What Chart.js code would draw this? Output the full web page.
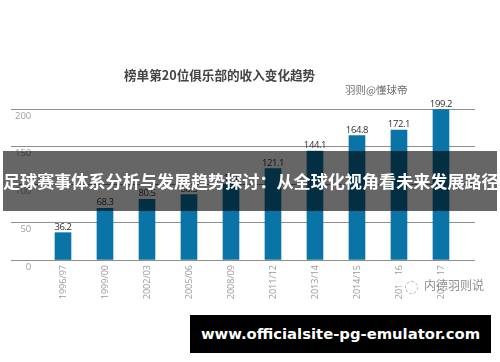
<!DOCTYPE html>
<html>
<head>
<meta charset="utf-8">
<script src="https://cdn.jsdelivr.net/npm/chart.js@4"></script>
<style>
  html, body { margin: 0; padding: 0; background: #fff; }
  #wrap { position: relative; width: 500px; height: 362px; overflow: hidden; font-family: "Noto Sans CJK SC", sans-serif; }
  #wrap div { position: absolute; white-space: nowrap; }
  #myChart { filter: blur(.3px); }
  #title { left: 124px; top: 65px; font-size: 12.6px; font-weight: 700; color: #444; }
  #author { left: 345px; top: 82px; font-size: 10.5px; color: #6b6b6b; }
  #patch { left: 394px; top: 274px; width: 56px; height: 12px; background: rgba(255,255,255,.9); }
  #icon { left: 405px; top: 281px; width: 11px; height: 11px; border: 1px dashed #b5b5b5; border-radius: 50%; }
  #mark { left: 423px; top: 276px; font-size: 12px; color: #8e8e8e; padding: 0 1px; }
  #band { left: 3px; top: 151px; width: 494px; height: 60px; line-height: 60px; background: rgba(0,0,0,.6); color: #fff; font-size: 17.1px; font-weight: 700; text-align: center; }
  #foot { left: 190px; top: 315px; width: 301px; height: 38px; line-height: 38px; background: #000; color: #fff; font-family: "DejaVu Sans", sans-serif; font-size: 14.8px; font-weight: 700; text-align: center; }
</style>
</head>
<body>
<div id="wrap">
  <canvas id="myChart" width="500" height="362"></canvas>
  <div id="title">榜单第20位俱乐部的收入变化趋势</div>
  <div id="author">羽则@懂球帝</div>
  <div id="patch"></div>
  <div id="icon"></div>
  <div id="mark">内德羽则说</div>
  <div id="band">足球赛事体系分析与发展趋势探讨：从全球化视角看未来发展路径</div>
  <div id="foot">www.officialsite-pg-emulator.com</div>
</div>
<script>
// data
const seasons = ["1996/97", "1999/00", "2002/03", "2005/06", "2008/09", "2011/12", "2013/14", "2014/15", "2015/16", "2016/17"];
const income = [36.2, 68.3, 80.5, 86.5, 101, 121.1, 144.1, 164.8, 172.1, 199.2];
const yTicks = [0, 50, 100, 150, 200];

// value labels above the bars
const barLabels = {
    id: 'barLabels',
    afterDatasetsDraw(chart) {
        const ctx = chart.ctx;
        const bars = chart.getDatasetMeta(0).data;
        ctx.save();
        ctx.font = '9.5px "Open Sans", sans-serif';
        ctx.letterSpacing = '-0.4px';
        ctx.fillStyle = '#303030';
        ctx.textAlign = 'center';
        ctx.textBaseline = 'bottom';
        bars.forEach((bar, i) => {
            ctx.fillText(income[i], bar.x, bar.y - 1);
        });
        ctx.restore();
    }
};

var ctx = document.getElementById('myChart');
var myChart = new Chart(ctx, {
    type: 'bar',
    data: {
        datasets: [{
            data: income.map((v, i) => ({ x: i, y: v })),
            backgroundColor: '#0a74a6',
            barThickness: 16
        }]
    },
    options: {
        responsive: false,
        animation: false,
        layout: { padding: { left: 11, right: 25, top: 109, bottom: 0 } },
        plugins: { legend: { display: false }, tooltip: { enabled: false } },
        scales: {
            x: {
                type: 'linear',
                offset: false,
                // the axis lines run well past the first and last bar
                min: -1.238,
                max: 9.81,
                afterBuildTicks(axis) {
                    axis.ticks = seasons.map((s, i) => ({ value: i }));
                },
                grid: { display: false },
                border: { display: false },
                ticks: {
                    callback: (v) => seasons[v],
                    minRotation: 90,
                    maxRotation: 90,
                    padding: -3,
                    autoSkip: false,
                    color: '#9a9a9a',
                    font: { family: '"Open Sans"', size: 9 }
                },
                afterFit(axis) { axis.height = 102; }
            },
            y: {
                min: 0,
                max: 200,
                afterBuildTicks(axis) {
                    axis.ticks = yTicks.map((v) => ({ value: v }));
                },
                grid: { color: '#8f8f8f', lineWidth: 1, drawTicks: false },
                border: { display: false },
                afterFit(axis) { axis.width = 0; },
                ticks: {
                    mirror: true,
                    padding: 4,
                    labelOffset: 7,
                    callback: (v) => String(v).padStart(3, '\u2007'),
                    color: '#a0a0a0',
                    font: { family: '"Open Sans"', size: 9.5 }
                }
            }
        }
    },
    plugins: [barLabels]
});
</script>
</body>
</html>
